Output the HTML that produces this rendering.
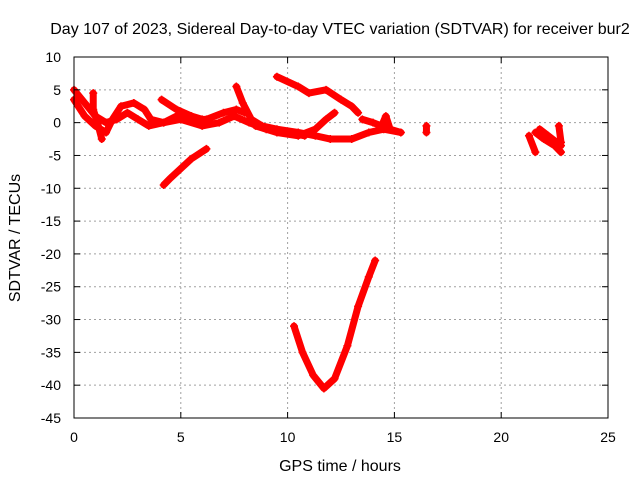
<!DOCTYPE html>
<html><head><meta charset="utf-8"><style>
body{margin:0;background:#fff}
svg text{font-family:"Liberation Sans",sans-serif;font-size:14px;fill:#000}
svg text.big{font-size:16px}
</style></head><body>
<svg id="c" width="640" height="480">
<text class="big" x="340" y="34" text-anchor="middle">Day 107 of 2023, Sidereal Day-to-day VTEC variation (SDTVAR) for receiver bur2</text>
<text class="big" x="340" y="471" text-anchor="middle">GPS time / hours</text>
<text class="big" transform="translate(20,238) rotate(-90)" text-anchor="middle">SDTVAR / TECUs</text>
<g id="grid"></g><g id="data"></g>
<rect x="74" y="57" width="534" height="361" fill="none" stroke="#000"/>
<g id="ticks"></g>
</svg>
<script>
const xTicks=[0,5,10,15,20,25];
const yTicks=[10,5,0,-5,-10,-15,-20,-25,-30,-35,-40,-45];
const tracks=[
[[0,3.5],[0.5,1],[1,-0.5],[1.5,-1.5],[1.8,0.5],[2.2,2.5],[2.8,3],[3.3,2],[3.6,0.5],[4.2,0],[4.8,1],[5.5,0.5],[6.2,0.5],[7,1.5],[7.6,2],[8,1.5]],
[[0,5],[0.5,3],[1,1],[1.5,0],[2,0.5],[2.5,1.5],[3,0.5],[3.5,-0.5],[4.2,0],[5,0.5],[6,-0.5],[6.8,0],[7.5,1],[8.2,0],[9,-1],[10,-1.5],[10.8,-2]],
[[0.9,4.5],[0.9,2],[1.1,0],[1.3,-2.5]],
[[4.1,3.5],[4.8,2],[5.5,1],[6,0.5]],
[[7.6,5.5],[7.9,3],[8.3,0.5],[8.8,-0.5],[9.5,-1],[10.5,-1.5],[11.3,-2],[12,-2.5],[13,-2.5],[13.8,-1.5],[14.5,-1],[15.3,-1.5]],
[[8.5,-0.5],[9.5,-1.5],[10.5,-2],[11.3,-1],[11.8,0.5],[12.2,1.5]],
[[9.5,7],[10.5,5.5],[11,4.5],[11.8,5],[12.5,3.5],[13,2.5],[13.3,1.5]],
[[13.5,0.5],[14,0],[14.4,-0.5],[14.6,1],[14.8,-1],[15.3,-1.5]],
[[4.2,-9.5],[4.5,-8.5],[5,-7],[5.5,-5.5],[6.2,-4]],
[[10.3,-31],[10.7,-35],[11.2,-38.5],[11.7,-40.5],[12.2,-39],[12.8,-34],[13.3,-28],[13.8,-23.5],[14.1,-21]],
[[16.5,-0.5],[16.5,-1.5]],
[[21.3,-2],[21.6,-4.5]],
[[21.6,-1.5],[22,-2.5],[22.5,-3.5],[22.8,-4.5]],
[[21.8,-1],[22.2,-2],[22.8,-3.5]],
[[22.7,-0.5],[22.8,-3]]
];
const X=h=>74+h*534/25, Y=v=>57+(10-v)*361/55;
const NS="http://www.w3.org/2000/svg";
const g=document.getElementById('grid'),t=document.getElementById('ticks'),d=document.getElementById('data');
function mk(tag,a,p){const e=document.createElementNS(NS,tag);for(const k in a)e.setAttribute(k,a[k]);p.appendChild(e);return e;}
xTicks.forEach(v=>{const x=X(v);
 if(v>0&&v<25){const l=mk('line',{x1:x,x2:x,y1:57,y2:418,stroke:'#a0a0a0','stroke-dasharray':'2,3'},g);
 
 }
 mk('line',{x1:x,x2:x,y1:418,y2:412,stroke:'#000'},t);mk('line',{x1:x,x2:x,y1:57,y2:63,stroke:'#000'},t);
 const tx=mk('text',{x:x,y:442,'text-anchor':'middle'},t);tx.textContent=v;
 
 });
yTicks.forEach(v=>{const y=Y(v);
 if(v<10&&v>-45){const l=mk('line',{x1:74,x2:608,y1:y,y2:y,stroke:'#a0a0a0','stroke-dasharray':'2,3'},g);
 
 }
 mk('line',{x1:74,x2:80,y1:y,y2:y,stroke:'#000'},t);mk('line',{x1:608,x2:602,y1:y,y2:y,stroke:'#000'},t);
 const tx=mk('text',{x:61,y:y+5,'text-anchor':'end'},t);tx.textContent=v;
 
 });
tracks.forEach(tr=>{
 const pl=mk('polyline',{points:tr.map(p=>X(p[0])+','+Y(p[1])).join(' '),fill:'none',stroke:'#f00','stroke-width':7,'stroke-linejoin':'round','stroke-linecap':'round'},d);
 
 
 tr.forEach(p=>{const x=X(p[0]),y=Y(p[1]);
  const m=mk('path',{d:`M${x-4} ${y}H${x+4}M${x} ${y-4}V${y+4}`,stroke:'#f00','stroke-width':1.5},d);
  
  });
});
</script>
</body></html>
